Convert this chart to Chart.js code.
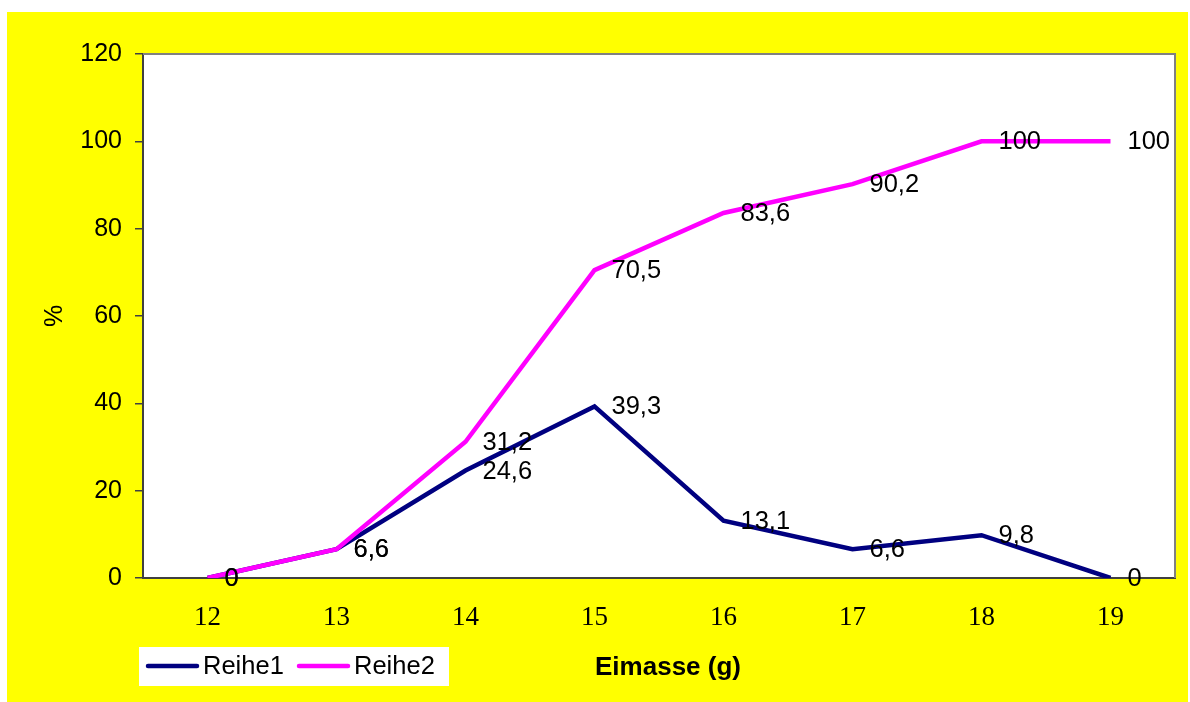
<!DOCTYPE html>
<html>
<head>
<meta charset="utf-8">
<script src="https://cdn.jsdelivr.net/npm/chart.js@4/dist/chart.umd.min.js"></script>
<style>
html,body{margin:0;padding:0;background:#fff;}
#wrap{width:1190px;height:702px;}
</style>
</head>
<body>
<div id="wrap"><canvas id="c" width="1190" height="702"></canvas></div>
<script>
const categories = ['12','13','14','15','16','17','18','19'];
const reihe1 = [0, 6.6, 24.6, 39.3, 13.1, 6.6, 9.8, 0];
const reihe2 = [0, 6.6, 31.2, 70.5, 83.6, 90.2, 100, 100];
const seriesNames = ['Reihe1', 'Reihe2'];
const xTitle = 'Eimasse (g)';
const yTitle = '%';

const fmt = v => String(v).replace('.', ',');
const SANS = '"Liberation Sans", Arial, sans-serif';

const bgPlugin = {
  id: 'bg',
  beforeDraw(chart) {
    const {ctx, chartArea: a} = chart;
    ctx.save();
    ctx.fillStyle = '#ffffff';
    ctx.fillRect(0, 0, chart.width, chart.height);
    ctx.fillStyle = '#ffff00';
    ctx.fillRect(7, 12, 1181, 690);
    ctx.fillStyle = '#ffffff';
    ctx.fillRect(a.left, a.top, a.right - a.left, a.bottom - a.top);
    ctx.restore();
  },
  afterDraw(chart) {
    const {ctx, chartArea: a} = chart;
    ctx.save();
    // top/right plot border
    ctx.strokeStyle = '#808080';
    ctx.lineWidth = 2;
    ctx.beginPath();
    ctx.moveTo(a.left, a.top);
    ctx.lineTo(a.right, a.top);
    ctx.lineTo(a.right, a.bottom);
    ctx.stroke();
    // x axis title
    ctx.fillStyle = '#000';
    ctx.font = 'bold 26px ' + SANS;
    ctx.textAlign = 'center';
    ctx.textBaseline = 'middle';
    ctx.fillText(xTitle, 668, 668);
    // legend
    ctx.fillStyle = '#ffffff';
    ctx.fillRect(139, 647, 310, 39);
    const items = [{x: 147}, {x: 298}];
    chart.data.datasets.forEach((ds, i) => {
      const x0 = items[i].x;
      ctx.strokeStyle = ds.borderColor;
      ctx.lineWidth = 4.5;
      ctx.lineCap = 'round';
      ctx.beginPath();
      ctx.moveTo(x0 + 1, 666);
      ctx.lineTo(x0 + 50, 666);
      ctx.stroke();
      ctx.fillStyle = '#000';
      ctx.font = '25.5px ' + SANS;
      ctx.textBaseline = 'middle';
      ctx.textAlign = 'left';
      ctx.fillText(ds.label, x0 + 56, 667);
    });
    ctx.restore();
  },
  afterDatasetsDraw(chart) {
    const {ctx} = chart;
    ctx.save();
    ctx.fillStyle = '#000';
    ctx.font = '25.5px ' + SANS;
    ctx.textBaseline = 'middle';
    ctx.textAlign = 'left';
    chart.data.datasets.forEach((ds, i) => {
      const meta = chart.getDatasetMeta(i);
      meta.data.forEach((pt, j) => {
        ctx.fillText(fmt(ds.data[j]), pt.x + 17, pt.y + 1);
      });
    });
    ctx.restore();
  }
};

new Chart(document.getElementById('c'), {
  type: 'line',
  data: {
    labels: categories,
    datasets: [
      {label: seriesNames[0], data: reihe1, borderColor: '#000080', backgroundColor: '#000080', borderWidth: 4.5, pointRadius: 0, tension: 0, order: 1},
      {label: seriesNames[1], data: reihe2, borderColor: '#ff00ff', backgroundColor: '#ff00ff', borderWidth: 4.5, pointRadius: 0, tension: 0, order: 0}
    ]
  },
  options: {
    responsive: false,
    animation: false,
    layout: {padding: {left: 0, top: 54, right: 15, bottom: 0}},
    plugins: {legend: {display: false}, tooltip: {enabled: false}},
    scales: {
      x: {
        offset: true,
        grid: {display: false, drawTicks: false},
        border: {display: true, color: '#404040', width: 2},
        ticks: {color: '#000', font: {family: '"Liberation Serif", "Times New Roman", serif', size: 27}, padding: 24, maxRotation: 0},
        title: {display: false},
        afterFit(s) { s.height = 124; }
      },
      y: {
        min: 0, max: 120,
        ticks: {stepSize: 20, color: '#000', font: {family: SANS, size: 25}, padding: 13},
        grid: {display: true, drawOnChartArea: false, drawTicks: true, tickLength: 8, color: '#404040', lineWidth: 1.5},
        border: {display: true, color: '#404040', width: 2},
        title: {display: true, text: yTitle, color: '#000', font: {family: SANS, size: 25}, padding: {top: 40, bottom: 0}},
        afterFit(s) { s.width = 143; }
      }
    }
  },
  plugins: [bgPlugin]
});
</script>
</body>
</html>
